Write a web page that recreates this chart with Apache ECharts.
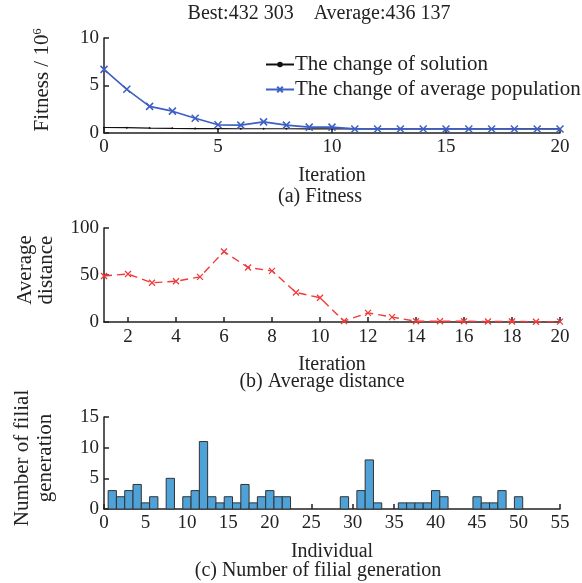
<!DOCTYPE html>
<html>
<head>
<meta charset="utf-8">
<script src="https://cdn.jsdelivr.net/npm/echarts@6/dist/echarts.min.js"></script>
<style>
  html, body { margin: 0; padding: 0; background: #fff; }
  #main { width: 582px; height: 583px; }
</style>
</head>
<body>
<div id="main"></div>
<script>
// (a) fitness
const iterA = [0, 1, 2, 3, 4, 5, 6, 7, 8, 9, 10, 11, 12, 13, 14, 15, 16, 17, 18, 19, 20];
const solution = [0.58, 0.56, 0.52, 0.49, 0.47, 0.46, 0.45, 0.45, 0.45, 0.44, 0.44, 0.44, 0.44, 0.44, 0.43, 0.43, 0.43, 0.43, 0.43, 0.43, 0.43];
const avgPopulation = [6.7, 4.6, 2.8, 2.3, 1.55, 0.86, 0.83, 1.17, 0.83, 0.62, 0.62, 0.43, 0.43, 0.43, 0.43, 0.43, 0.43, 0.43, 0.42, 0.42, 0.42];
// (b) average distance
const iterB = [1, 2, 3, 4, 5, 6, 7, 8, 9, 10, 11, 12, 13, 14, 15, 16, 17, 18, 19, 20];
const avgDistance = [49, 51, 41.7, 43.4, 48, 75, 58, 54.4, 31.4, 25.8, 1, 9.7, 5.2, 0.8, 0.8, 0.8, 0.6, 0.6, 0.3, 0.4];
const ticksB = [2, 4, 6, 8, 10, 12, 14, 16, 18, 20];
// (c) filial generations, individuals 1..55
const filial = [3, 2, 3, 4, 1, 2, 0, 5, 0, 2, 3, 11, 2, 1, 2, 1, 4, 1, 2, 3, 2, 2, 0, 0, 0, 0, 0, 0, 2, 0, 3, 8, 1, 0, 0, 1, 1, 1, 1, 3, 2, 0, 0, 0, 2, 1, 1, 3, 0, 2, 0, 0, 0, 0, 0];

const font = 'Liberation Serif';
const xMark = 'path://M0 0L10 10M10 0L0 10';

function axisBase(extra) {
  return Object.assign({
    type: 'value',
    axisLine: { show: true, lineStyle: { color: '#222', width: 1.5 } },
    axisTick: { show: true, inside: true, length: 5, lineStyle: { color: '#222', width: 1.5 } },
    axisLabel: { color: '#222', fontFamily: font, fontSize: 19, margin: 5 },
    splitLine: { show: false },
    nameTextStyle: { color: '#222', fontFamily: font, fontSize: 20 }
  }, extra);
}

const chart = echarts.init(document.getElementById('main'));
const barData = filial.map((v, i) => [i + 1, v]);

let option = {
  animation: false,
  backgroundColor: '#fff',
  textStyle: { fontFamily: font },
  grid: [
    { left: 104, width: 456, top: 38, height: 95 },
    { left: 104, width: 456, top: 228, height: 94 },
    { left: 104, width: 456, top: 417, height: 92 }
  ],
  legend: {
    orient: 'vertical',
    left: 260,
    top: 49,
    itemGap: 4,
    itemWidth: 28,
    itemHeight: 7,
    textStyle: { fontFamily: font, fontSize: 21, color: '#222', padding: [0, 0, 0, -4] },
    data: ['The change of solution', 'The change of average population']
  },
  xAxis: [
    axisBase({ gridIndex: 0, min: 0, max: 20, interval: 5, name: 'Iteration',
      nameLocation: 'middle', nameGap: 33 }),
    axisBase({ gridIndex: 1, min: 1, max: 20, name: 'Iteration', nameLocation: 'middle', nameGap: 33,
      axisLabel: { color: '#222', fontFamily: font, fontSize: 19, margin: 6, customValues: ticksB },
      axisTick: { show: true, inside: true, length: 5, customValues: ticksB, lineStyle: { color: '#222', width: 1.5 } } }),
    axisBase({ gridIndex: 2, min: 0, max: 55, interval: 5, name: 'Individual',
      nameLocation: 'middle', nameGap: 33 })
  ],
  yAxis: [
    axisBase({ gridIndex: 0, min: 0, max: 10, interval: 5 }),
    axisBase({ gridIndex: 1, min: 0, max: 100, interval: 50 }),
    axisBase({ gridIndex: 2, min: 0, max: 15, interval: 5 })
  ],
  graphic: [
    { type: 'text', x: 319, y: 4, style: { text: 'Best:432 303    Average:436 137', font: '20px "Liberation Serif"', fill: '#222', align: 'center' } },
    { type: 'text', x: 42, y: 80, rotation: Math.PI / 2, style: {
        text: '{a|Fitness / 10}{s|6}', rich: { a: { font: '21px "Liberation Serif"', fill: '#222' }, s: { font: '12px "Liberation Serif"', fill: '#222', verticalAlign: 'top', padding: [0, 0, 8, 0] } },
        align: 'center', verticalAlign: 'middle' } },
    { type: 'text', x: 320, y: 187, style: { text: '(a) Fitness', font: '20px "Liberation Serif"', fill: '#222', align: 'center' } },
    { type: 'text', x: 36, y: 270, rotation: Math.PI / 2, style: {
        text: 'Average\ndistance', font: '21px "Liberation Serif"', fill: '#222', align: 'center', verticalAlign: 'middle', lineHeight: 21 } },
    { type: 'text', x: 322, y: 372, style: { text: '(b) Average distance', font: '20px "Liberation Serif"', fill: '#222', align: 'center' } },
    { type: 'text', x: 34, y: 458, rotation: Math.PI / 2, style: {
        text: 'Number of filial\ngeneration', font: '21px "Liberation Serif"', fill: '#222', align: 'center', verticalAlign: 'middle', lineHeight: 23 } },
    { type: 'text', x: 318, y: 561, style: { text: '(c) Number of filial generation', font: '20px "Liberation Serif"', fill: '#222', align: 'center' } }
  ],
  series: [
    {
      name: 'The change of solution', type: 'line', xAxisIndex: 0, yAxisIndex: 0,
      data: iterA.map((x, i) => [x, solution[i]]),
      symbol: 'circle', symbolSize: 2,
      lineStyle: { color: '#111', width: 1.2 }, itemStyle: { color: '#111' }
    },
    {
      name: 'The change of average population', type: 'line', xAxisIndex: 0, yAxisIndex: 0,
      data: iterA.map((x, i) => [x, avgPopulation[i]]),
      symbol: xMark, symbolSize: 7,
      lineStyle: { color: '#3d5fc4', width: 1.6 },
      itemStyle: { color: '#3d5fc4', borderColor: '#3d5fc4', borderWidth: 1.5 }
    },
    {
      name: 'distance', type: 'line', xAxisIndex: 1, yAxisIndex: 1,
      data: iterB.map((x, i) => [x, avgDistance[i]]),
      symbol: xMark, symbolSize: 6,
      lineStyle: { color: '#f03a3a', width: 1.4, type: [8, 5] },
      itemStyle: { color: '#f03a3a', borderColor: '#f03a3a', borderWidth: 1.3 }
    },
    {
      name: 'filial', type: 'custom', xAxisIndex: 2, yAxisIndex: 2,
      data: barData,
      renderItem: function (params, api) {
        const v = api.value(1);
        if (!v) return;
        const p0 = api.coord([api.value(0) - 0.5, v]);
        const p1 = api.coord([api.value(0) + 0.5, 0]);
        return {
          type: 'rect',
          shape: { x: p0[0], y: p0[1], width: p1[0] - p0[0], height: p1[1] - p0[1] },
          style: { fill: '#4fa2d8', stroke: '#333', lineWidth: 1 }
        };
      }
    }
  ]
};
chart.setOption(option);
</script>
</body>
</html>
